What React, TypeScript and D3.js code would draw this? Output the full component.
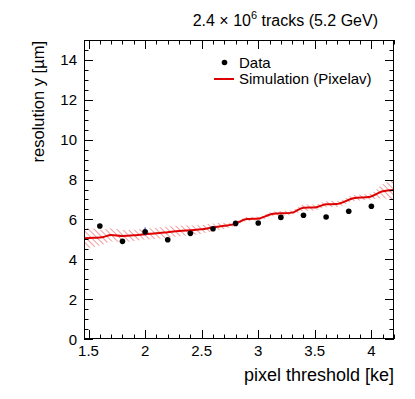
import React, { useEffect, useRef } from "react";
import * as d3 from "d3";

// measured data points (pixel threshold in ke, resolution in um)
const DATA_X = [1.6, 1.8, 2.0, 2.2, 2.4, 2.6, 2.8, 3.0, 3.2, 3.4, 3.6, 3.8, 4.0];
const DATA_Y = [5.67, 4.9, 5.38, 4.98, 5.3, 5.53, 5.8, 5.82, 6.1, 6.21, 6.12, 6.41, 6.66];

// simulation curve and its uncertainty band
const SIM_X = [
    1.46, 1.55, 1.62, 1.7, 1.8, 1.9, 2.0, 2.1, 2.2, 2.3, 2.4, 2.5, 2.6, 2.7,
    2.78, 2.9, 3.01, 3.12, 3.3, 3.4, 3.5, 3.6, 3.69, 3.84, 3.99, 4.1, 4.2,
];
const SIM_Y = [
    5.06, 5.08, 5.1, 5.22, 5.17, 5.2, 5.26, 5.3, 5.36, 5.42, 5.46, 5.5, 5.6, 5.68,
    5.75, 6.02, 6.05, 6.27, 6.34, 6.59, 6.6, 6.76, 6.77, 7.06, 7.14, 7.41, 7.48,
];
const SIM_ERR = [
    0.52, 0.45, 0.38, 0.33, 0.3, 0.28, 0.27, 0.28, 0.28, 0.27, 0.24, 0.22, 0.2, 0.15,
    0.1, 0.1, 0.1, 0.12, 0.12, 0.16, 0.15, 0.15, 0.15, 0.15, 0.15, 0.35, 0.5,
];

const X_TICKS = [1.5, 2, 2.5, 3, 3.5, 4];
const Y_TICKS = [0, 2, 4, 6, 8, 10, 12, 14];

const FONT = "'Liberation Sans', Arial, Helvetica, sans-serif";

const App = () => {
    const ref = useRef<SVGSVGElement | null>(null);

    useEffect(() => {
        const svg = d3.select(ref.current);
        svg.selectAll("*").remove();

        const left = 84, right = 394, top = 40, bottom = 339;

        const x = d3.scaleLinear().domain([1.46, 4.2]).range([left, right]);
        const y = d3.scaleLinear().domain([0, 15]).range([bottom, top]);

        const defs = svg.append("defs");
        const pat = defs
            .append("pattern")
            .attr("id", "hatch")
            .attr("patternUnits", "userSpaceOnUse")
            .attr("width", 4)
            .attr("height", 4)
            .attr("patternTransform", "rotate(-45)");
        pat.append("line")
            .attr("x1", 0).attr("y1", 0).attr("x2", 0).attr("y2", 4)
            .attr("stroke", "#e02828")
            .attr("stroke-opacity", 0.75)
            .attr("stroke-width", 1.2);

        defs.append("clipPath").attr("id", "frame")
            .append("rect")
            .attr("x", left).attr("y", top)
            .attr("width", right - left).attr("height", bottom - top);

        const sim = SIM_X.map((v, i) => ({ x: v, y: SIM_Y[i], e: SIM_ERR[i] }));

        const plot = svg.append("g").attr("clip-path", "url(#frame)");

        plot.append("path")
            .datum(sim)
            .attr("d", d3.area<any>()
                .x((d) => x(d.x))
                .y0((d) => y(d.y - d.e))
                .y1((d) => y(d.y + d.e))
                .curve(d3.curveMonotoneX))
            .attr("fill", "url(#hatch)");

        plot.append("path")
            .datum(sim)
            .attr("d", d3.line<any>()
                .x((d) => x(d.x))
                .y((d) => y(d.y))
                .curve(d3.curveMonotoneX))
            .attr("fill", "none")
            .attr("stroke", "#dd0000")
            .attr("stroke-width", 2);

        // tiny blue error bar visible on the 2.0 point
        plot.append("line")
            .attr("x1", x(2.0)).attr("x2", x(2.0))
            .attr("y1", y(5.2)).attr("y2", y(5.6))
            .attr("stroke", "#2040d0")
            .attr("stroke-width", 1);

        plot.selectAll("circle.data")
            .data(DATA_X.map((v, i) => [v, DATA_Y[i]]))
            .join("circle")
            .attr("class", "data")
            .attr("cx", (d) => x(d[0]))
            .attr("cy", (d) => y(d[1]))
            .attr("r", 2.8)
            .attr("fill", "black");

        // frame + ticks on all four sides
        const axes = svg.append("g").attr("stroke", "black").attr("stroke-width", 1);
        axes.append("rect")
            .attr("x", left + 0.5).attr("y", top + 0.5)
            .attr("width", right - left - 1).attr("height", bottom - top - 1)
            .attr("fill", "none");

        const xMinor = d3.range(15, 43).map((d) => d / 10);
        xMinor.forEach((v) => {
            const major = Math.abs(v * 2 - Math.round(v * 2)) < 1e-6;
            const len = major ? 9 : 4.5;
            const px = Math.round(x(v)) + 0.5;
            axes.append("line").attr("x1", px).attr("x2", px).attr("y1", bottom).attr("y2", bottom - len);
            axes.append("line").attr("x1", px).attr("x2", px).attr("y1", top).attr("y2", top + len);
        });

        const yMinor = d3.range(0, 31).map((d) => d / 2);
        yMinor.forEach((v) => {
            const major = v % 2 === 0;
            const len = major ? 9 : 4.5;
            const py = Math.round(y(v)) + 0.5;
            axes.append("line").attr("y1", py).attr("y2", py).attr("x1", left).attr("x2", left + len);
            axes.append("line").attr("y1", py).attr("y2", py).attr("x1", right).attr("x2", right - len);
        });

        const labels = svg.append("g")
            .attr("font-family", FONT)
            .attr("font-size", 15)
            .attr("fill", "black");

        labels.selectAll("text.xt")
            .data(X_TICKS)
            .join("text")
            .attr("class", "xt")
            .attr("x", (d) => x(d))
            .attr("y", 356)
            .attr("text-anchor", "middle")
            .text((d) => d3.format("")(d));

        labels.selectAll("text.yt")
            .data(Y_TICKS)
            .join("text")
            .attr("class", "yt")
            .attr("x", 77)
            .attr("y", (d) => y(d) + 5.5)
            .attr("text-anchor", "end")
            .text((d) => d);

        svg.append("text")
            .attr("x", right)
            .attr("y", 381)
            .attr("text-anchor", "end")
            .attr("font-family", FONT)
            .attr("font-size", 18)
            .text("pixel threshold [ke]");

        svg.append("text")
            .attr("transform", `translate(44,${top + 1}) rotate(-90)`)
            .attr("text-anchor", "end")
            .attr("font-family", FONT)
            .attr("font-size", 16.5)
            .text("resolution y [\u00b5m]");

        const title = svg.append("text")
            .attr("x", 378)
            .attr("y", 26)
            .attr("text-anchor", "end")
            .attr("font-family", FONT)
            .attr("font-size", 16);
        title.append("tspan").text("2.4 \u00d7 10");
        title.append("tspan").attr("dy", -7).attr("font-size", 11).text("6");
        title.append("tspan").attr("dy", 7).text(" tracks (5.2 GeV)");

        // legend
        const legend = svg.append("g").attr("font-family", FONT).attr("font-size", 15);
        legend.append("circle").attr("cx", 224.5).attr("cy", 62.5).attr("r", 2.8).attr("fill", "black");
        legend.append("text").attr("x", 239).attr("y", 67.5).text("Data");
        legend.append("line")
            .attr("x1", 214).attr("x2", 234).attr("y1", 79).attr("y2", 79)
            .attr("stroke", "#dd0000").attr("stroke-width", 2);
        legend.append("text").attr("x", 239).attr("y", 84).text("Simulation (Pixelav)");
    }, []);

    return (
        <svg
            ref={ref}
            width={415}
            height={399}
            style={{ position: "absolute", left: 0, top: 0, background: "white" }}
        />
    );
};

export default App;
